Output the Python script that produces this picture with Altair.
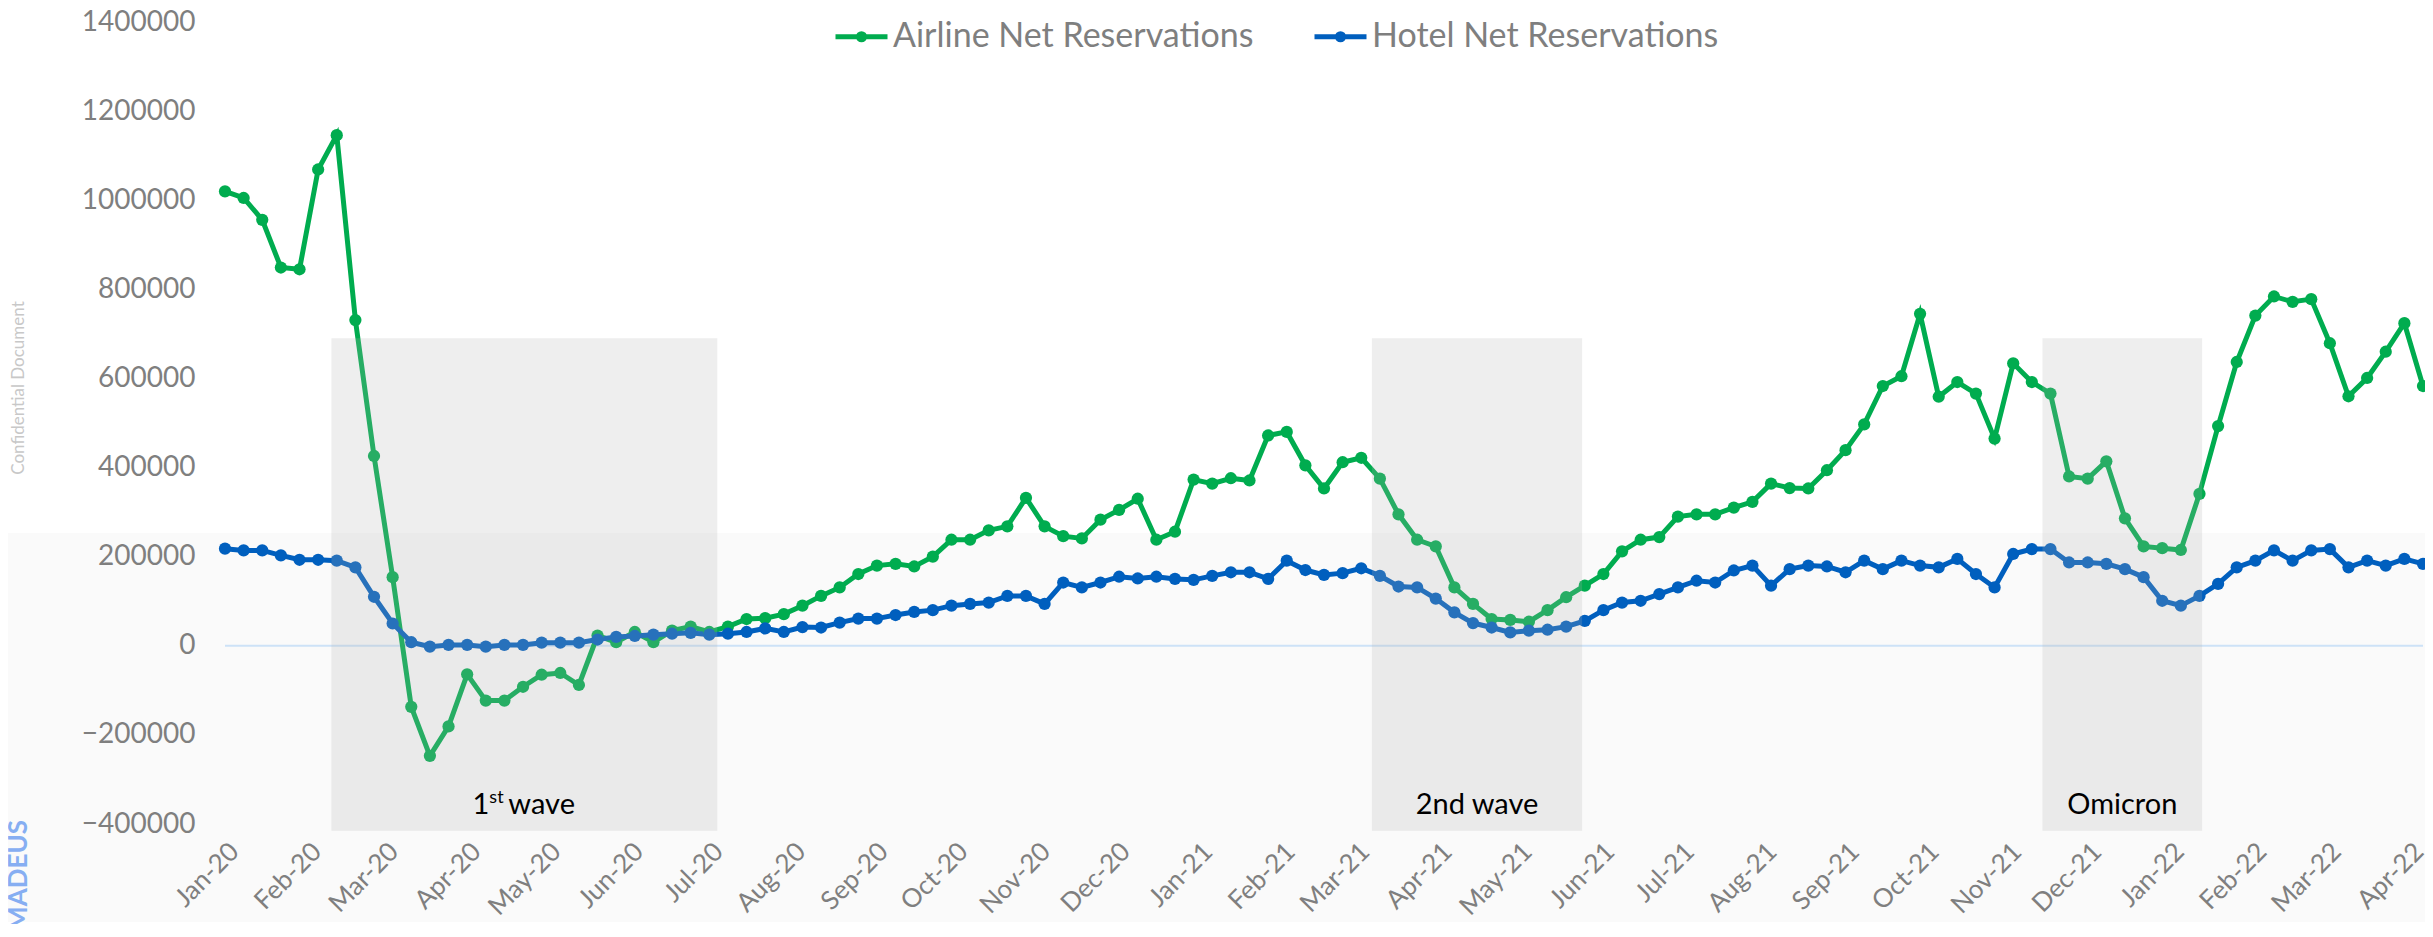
import altair as alt
import pandas as pd

# ---------------- data ----------------
START_DATE = "2020-01-01"
N_WEEKS = 119
SERIES = ["Airline Net Reservations", "Hotel Net Reservations"]
COLORS = ["#00AC4F", "#005FBE"]

airline = [
    1020000, 1005000, 956000, 849000, 845000, 1069000, 1146000, 731000, 426000, 154000,
    -137000, -247000, -181000, -64000, -123000, -123000, -92000, -65000, -61000, -88000,
    23000, 8000, 31000, 8000, 34000, 43000, 31000, 43000, 60000, 62000,
    71000, 90000, 112000, 131000, 161000, 180000, 184000, 178000, 200000, 238000,
    238000, 259000, 268000, 332000, 268000, 246000, 241000, 283000, 305000, 330000,
    238000, 256000, 373000, 364000, 376000, 371000, 472000, 480000, 405000, 353000,
    412000, 422000, 375000, 295000, 238000, 223000, 131000, 94000, 60000, 58000,
    54000, 80000, 109000, 135000, 161000, 212000, 238000, 244000, 290000, 295000,
    295000, 310000, 323000, 364000, 354000, 353000, 394000, 439000, 497000, 583000,
    605000, 745000, 559000, 592000, 566000, 465000, 634000, 592000, 566000, 380000,
    375000, 414000, 286000, 223000, 219000, 215000, 341000, 493000, 637000, 741000,
    784000, 772000, 778000, 679000, 560000, 601000, 660000, 724000, 583000,
]

hotel = [
    218000, 214000, 214000, 203000, 193000, 193000, 191000, 176000, 110000, 50000,
    8000, -2000, 2000, 2000, -2000, 2000, 2000, 7000, 7000, 7000,
    14000, 20000, 22000, 25000, 27000, 29000, 25000, 27000, 31000, 39000,
    31000, 42000, 41000, 52000, 61000, 61000, 69000, 76000, 80000, 90000,
    94000, 97000, 112000, 112000, 94000, 142000, 131000, 142000, 155000, 151000,
    155000, 150000, 148000, 157000, 165000, 165000, 150000, 191000, 170000, 159000,
    163000, 174000, 157000, 133000, 131000, 106000, 75000, 51000, 41000, 30000,
    34000, 36000, 43000, 56000, 80000, 97000, 101000, 116000, 131000, 146000,
    142000, 169000, 180000, 135000, 172000, 180000, 178000, 165000, 191000, 172000,
    191000, 180000, 176000, 195000, 161000, 131000, 206000, 217000, 217000, 187000,
    187000, 184000, 172000, 154000, 101000, 90000, 112000, 139000, 176000, 191000,
    214000, 191000, 214000, 217000, 176000, 191000, 180000, 195000, 184000,
]

wave_labels = ["1st wave", "2nd wave", "Omicron"]
wave_start = ["2020-02-10", "2021-03-07", "2021-11-14"]
wave_end = ["2020-07-04", "2021-05-25", "2022-01-13"]
WAVE_TOP = 690000
WAVE_BOTTOM = -415000

Y_TICKS = list(range(-400000, 1400001, 200000))

# ---------------- tables ----------------
dates = pd.date_range(START_DATE, periods=N_WEEKS, freq="7D")
date_str = [d.strftime("%Y-%m-%dT00:00:00") for d in dates]
df = pd.DataFrame({
    "date": date_str * 2,
    "series": [SERIES[0]] * N_WEEKS + [SERIES[1]] * N_WEEKS,
    "value": airline + hotel,
})

ws = pd.to_datetime(wave_start)
we = pd.to_datetime(wave_end)
mid = ws + (we - ws) / 2
waves = pd.DataFrame({
    "label": wave_labels,
    "start": [d.strftime("%Y-%m-%dT00:00:00") for d in ws],
    "end": [d.strftime("%Y-%m-%dT00:00:00") for d in we],
    "mid": [d.strftime("%Y-%m-%dT%H:%M:%S") for d in mid],
    "top": [WAVE_TOP] * 3,
    "bottom": [WAVE_BOTTOM] * 3,
})

FONT = "Lato"
GREY = "#7f7f7f"

x_scale = alt.Scale(
    domain=[alt.DateTime(year=2020, month=1, date=1),
            alt.DateTime(year=2022, month=4, date=6)],
    nice=False,
)
y_scale = alt.Scale(domain=[-400000, 1400000], nice=False, zero=False)

x_axis = alt.Axis(
    title=None, format="%b-%y", tickCount=alt.TimeIntervalStep(interval="month", step=1),
    labelAngle=-45, labelAlign="right", labelBaseline="top", labelPadding=14,
    labelFont=FONT, labelFontSize=26, labelColor=GREY, labelOverlap=False,
    labelFlush=False, labelBound=False, domain=False, ticks=False, grid=False,
    zindex=5,
)
y_axis = alt.Axis(
    title=None, values=Y_TICKS, format="d", labelFont=FONT, labelFontSize=28,
    labelColor=GREY, labelPadding=30, domain=False, ticks=False, grid=False,
    labelFlush=False, zindex=5,
)

X = alt.X("date:T", scale=x_scale, axis=x_axis)
Y = alt.Y("value:Q", scale=y_scale, axis=y_axis)

color_scale = alt.Scale(domain=SERIES, range=COLORS)
legend = alt.Legend(
    title=None, orient="none", legendX=608, legendY=-14, direction="horizontal",
    symbolType="M-1,0H1M-0.12,0A0.12,0.12,0,1,1,0.12,0A0.12,0.12,0,1,1,-0.12,0Z",
    symbolSize=2704, symbolStrokeWidth=5, symbolOpacity=1,
    labelFont=FONT, labelFontSize=34, labelColor=GREY, labelOffset=3,
    columnPadding=50, padding=0, labelLimit=600, zindex=5,
)
color_legend = alt.Color("series:N", scale=color_scale, legend=legend)
color_nolegend = alt.Color("series:N", scale=color_scale, legend=None)

base = alt.Chart(df)

bg = alt.Chart(pd.DataFrame({"k": [0]})).mark_rect(color="#fafafa").encode(
    x=alt.value(-217), x2=alt.value(2200),
    y=alt.Y(datum=253000, scale=y_scale), y2=alt.value(900),
)

zero = alt.Chart(pd.DataFrame({"k": [0]})).mark_rule(color="#cde2f7", strokeWidth=2).encode(
    y=alt.Y(datum=0, scale=y_scale)
)

lines = base.mark_line(strokeWidth=5).encode(x=X, y=Y, color=color_legend)
points = base.mark_circle(size=150, opacity=1).encode(x=X, y=Y, color=color_nolegend)

bands = alt.Chart(waves).mark_rect(color="#b0b0b0", opacity=0.22).encode(
    x=alt.X("start:T", scale=x_scale), x2="end:T",
    y=alt.Y("top:Q", scale=y_scale), y2="bottom:Q",
)

ANN_Y = 792
other_waves = alt.Chart(waves).transform_filter("datum.label != '1st wave'").mark_text(
    font=FONT, fontSize=29, color="black", align="center", baseline="alphabetic"
).encode(x=alt.X("mid:T", scale=x_scale), y=alt.value(ANN_Y), text="label:N")

first = alt.Chart(waves).transform_filter("datum.label == '1st wave'")
first_1 = first.mark_text(font=FONT, fontSize=29, color="black", align="right",
                          baseline="alphabetic", dx=-35).encode(
    x=alt.X("mid:T", scale=x_scale), y=alt.value(ANN_Y), text=alt.value("1"))
first_st = first.mark_text(font=FONT, fontSize=18, color="black", align="left",
                           baseline="alphabetic", dx=-35, dy=-11).encode(
    x=alt.X("mid:T", scale=x_scale), y=alt.value(ANN_Y), text=alt.value("st"))
first_wave = first.mark_text(font=FONT, fontSize=29, color="black", align="left",
                             baseline="alphabetic", dx=-16).encode(
    x=alt.X("mid:T", scale=x_scale), y=alt.value(ANN_Y), text=alt.value("wave"))

conf = alt.Chart(pd.DataFrame({"t": ["Confidential Document"]})).mark_text(
    font=FONT, fontSize=17, color="#c8c8c8", angle=270, align="center", baseline="middle"
).encode(x=alt.value(-206), y=alt.value(366), text="t:N")

brand = alt.Chart(pd.DataFrame({"t": ["AMADEUS"]})).mark_text(
    font=FONT, fontSize=26, fontWeight="bold", color="#86aef2", angle=270,
    align="right", baseline="middle"
).encode(x=alt.value(-206), y=alt.value(798), text="t:N")

chart = alt.layer(
    bg, zero, lines, points, bands, other_waves, first_1, first_st, first_wave, conf, brand
).properties(
    width=2198, height=802,
    autosize=alt.AutoSizeParams(type="none"),
    padding={"left": 217, "top": 14, "right": 2, "bottom": 100},
    background="white",
).configure_view(stroke=None)

chart.save("out.html", embed_options={"renderer": "svg", "actions": False})
